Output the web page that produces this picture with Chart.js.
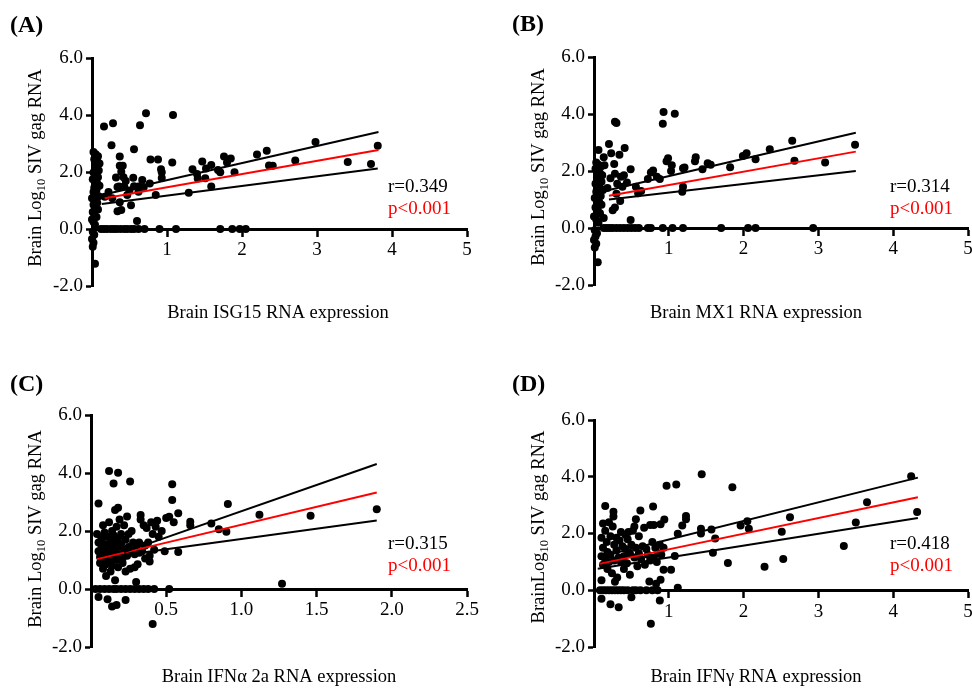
<!DOCTYPE html>
<html>
<head>
<meta charset="utf-8">
<script src="https://cdn.jsdelivr.net/npm/chart.js@4.4.1/dist/chart.umd.min.js"></script>
<style>
body { margin: 0; background: #fff; }
#wrap { position: relative; width: 972px; height: 688px; background: #fff; }
canvas { position: absolute; }
</style>
</head>
<body>
<div id="wrap">
  <canvas id="panelA" width="486" height="344" style="left:0;top:0"></canvas>
  <canvas id="panelB" width="486" height="344" style="left:486px;top:0"></canvas>
  <canvas id="panelC" width="486" height="344" style="left:0;top:344px"></canvas>
  <canvas id="panelD" width="486" height="344" style="left:486px;top:344px"></canvas>
</div>
<script>
// points, [x, y]
const isg15Points = [
  [0.02,2.7],[0.05,2.62],[0.08,2.55],[0.03,2.45],[0.07,2.38],[0.1,2.3],[0.04,2.22],[0.06,2.15],[0.09,2.05],[0.02,1.98],
  [0.05,1.9],[0.08,1.82],[0.01,1.75],[0.04,1.68],[0.07,1.6],[0.1,1.52],[0.03,1.45],[0.06,1.38],[0.02,1.3],[0.05,1.22],
  [0.09,1.15],[0.0,1.08],[0.04,1.0],[0.07,0.92],[0.02,0.85],[0.05,0.76],[0.08,0.68],[0.01,0.6],[0.03,0.5],[0.06,0.42],
  [0.0,0.33],[0.02,0.25],[0.04,0.15],[0.01,-0.1],[0.03,-0.2],[0.0,-0.35],[0.02,-0.48],[0.01,-0.62],[0.04,-1.22],
  [0.12,0],[0.16,0],[0.2,0],[0.25,0],[0.29,0],[0.33,0],[0.38,0],[0.43,0],[0.47,0],[0.52,0],[0.56,0],[0.62,0],[0.7,0],
  [0.9,0],[1.12,0],[1.71,0],[1.87,0],[1.97,0],[2.05,0],
  [0.16,3.6],[0.28,3.71],[0.72,4.06],[0.64,3.64],[1.08,4.0],[0.26,2.94],[0.56,2.8],[0.37,2.54],[0.78,2.44],[0.88,2.44],
  [1.07,2.33],[0.92,2.1],[0.93,1.99],[0.93,1.79],[0.37,2.22],[0.41,2.22],[0.39,2.01],[0.32,1.81],[0.42,1.82],[0.45,1.68],
  [0.36,1.49],[0.43,1.49],[0.34,1.47],[0.55,1.8],[0.56,1.5],[0.62,1.49],[0.69,1.47],[0.67,1.72],[0.77,1.6],[0.85,1.19],
  [0.62,1.31],[0.47,1.19],[0.37,0.94],[0.52,0.83],[0.34,0.62],[0.39,0.67],[0.6,0.28],[0.27,1.08],[0.17,1.13],[0.22,1.3],
  [0.5,1.35],[1.29,1.27],[1.34,2.1],[1.4,1.93],[1.41,1.77],[1.47,2.37],[1.51,1.78],[1.52,2.12],[1.59,2.25],[1.59,1.49],
  [1.68,2.07],[1.71,1.99],[1.76,2.54],[1.8,2.33],[1.85,2.47],[1.9,1.99],[2.2,2.61],[2.33,2.75],[2.36,2.23],[2.41,2.22],
  [2.71,2.4],[2.98,3.05],[3.41,2.35],[3.72,2.28],[3.81,2.92]
]
const isg15Fit = [[0.17,1.08],[3.82,2.77]]
const isg15Upper = [[0.13,1.19],[3.82,3.4]]
const isg15Lower = [[0.13,0.88],[3.81,2.12]]

const mx1Points = [
  [0.03,2.3],[0.06,2.22],[0.09,2.15],[0.02,2.08],[0.05,2.0],[0.08,1.92],[0.11,1.85],[0.04,1.77],[0.07,1.7],[0.1,1.62],
  [0.02,1.55],[0.05,1.48],[0.08,1.4],[0.12,1.33],[0.03,1.27],[0.06,1.2],[0.09,1.12],[0.01,1.05],[0.04,0.98],[0.07,0.9],
  [0.1,0.82],[0.02,0.72],[0.05,0.62],[0.08,0.52],[0.0,0.4],[0.03,0.3],[0.06,0.18],[0.01,-0.08],[0.04,-0.18],[0.02,-0.3],
  [0.0,-0.42],[0.03,-0.55],[0.01,-0.68],[0.05,-1.2],[0.13,0.35],
  [0.06,2.74],[0.2,2.95],[0.41,2.81],[0.23,2.62],[0.34,2.57],[0.13,2.48],[0.27,2.25],[0.49,2.06],[0.36,1.8],[0.28,1.9],
  [0.22,1.75],[0.31,1.55],[0.38,1.45],[0.3,1.2],[0.35,0.95],[0.28,0.72],[0.25,0.62],[0.18,1.4],[0.56,1.45],[0.59,1.22],
  [0.63,1.3],[0.49,0.28],[0.72,1.72],[0.76,1.95],[0.79,2.02],[0.84,1.8],[0.88,1.72],[0.97,2.34],[0.99,2.45],[1.04,2.2],
  [1.03,2.0],[1.19,2.1],[1.21,2.12],[1.19,1.45],[1.18,1.27],[1.35,2.34],[1.36,2.48],[1.45,2.06],[1.52,2.27],[1.56,2.22],
  [1.82,2.13],[1.99,2.53],[2.04,2.62],[2.16,2.41],[2.35,2.76],[2.65,3.06],[2.68,2.36],[3.09,2.3],[3.49,2.92],[0.93,4.07],
  [1.08,4.01],[0.92,3.66],[0.28,3.73],[0.3,3.68],[0.44,1.6],[0.4,1.85],[0.14,2.2],
  [0.13,0],[0.17,0],[0.21,0],[0.25,0],[0.3,0],[0.35,0],[0.4,0],[0.45,0],[0.5,0],[0.55,0],[0.6,0],[0.72,0],[0.76,0],
  [0.92,0],[1.05,0],[1.19,0],[1.7,0],[2.06,0],[2.16,0],[2.93,0]
]
const mx1Fit = [[0.2,1.13],[3.5,2.68]]
const mx1Upper = [[0.2,1.33],[3.5,3.34]]
const mx1Lower = [[0.2,1.0],[3.5,2.0]]

const ifnaPoints = [
  [0.04,1.9],[0.05,1.6],[0.05,1.3],[0.06,1.1],[0.06,0.9],[0.07,1.75],[0.07,1.45],[0.08,2.2],[0.08,1.2],[0.08,0.7],
  [0.09,1.95],[0.09,1.55],[0.09,1.0],[0.1,1.35],[0.1,0.85],[0.1,0.45],[0.11,1.8],[0.11,1.15],[0.12,2.3],[0.12,1.5],
  [0.12,0.95],[0.13,1.7],[0.13,1.25],[0.13,0.6],[0.14,2.0],[0.14,1.4],[0.14,0.8],[0.15,1.85],[0.15,1.1],[0.16,1.6],
  [0.16,1.3],[0.16,0.3],[0.17,2.15],[0.17,1.0],[0.18,1.75],[0.18,1.45],[0.18,0.75],[0.19,1.2],[0.19,2.4],[0.2,1.9],
  [0.2,1.55],[0.21,1.05],[0.21,0.9],[0.22,2.2],[0.22,1.35],[0.23,1.7],[0.23,0.6],[0.24,2.5],[0.24,1.15],[0.25,1.45],
  [0.25,1.9],[0.26,0.7],[0.27,2.0],[0.27,1.3],[0.28,1.6],[0.29,1.2],[0.3,1.45],[0.31,0.85],[0.32,1.25],[0.33,2.55],
  [0.33,2.4],[0.34,1.3],[0.35,2.2],[0.36,1.05],[0.37,2.1],[0.38,1.6],[0.39,1.15],[0.39,0.95],[0.4,2.3],[0.41,1.9],
  [0.42,1.35],[0.43,2.15],[0.44,2.35],[0.45,1.8],[0.47,2.0],[0.49,1.3],[0.05,2.95],[0.12,4.07],[0.18,4.01],[0.15,3.64],
  [0.26,3.71],[0.54,3.61],[0.54,3.07],[0.16,2.72],[0.18,2.8],[0.52,2.49],[0.58,2.61],[0.55,2.3],[0.5,2.45],[0.66,2.2],
  [0.66,2.32],[0.8,2.26],[0.85,2.06],[0.9,1.97],[0.91,2.93],[1.12,2.56],[1.46,2.53],[1.9,2.75],[1.27,0.18],[0.58,1.28],
  [0.41,-1.21],[0.3,0.24],[0.05,-0.28],[0.11,-0.35],[0.14,-0.6],[0.17,-0.55],[0.23,-0.38],[0.29,0.75],[0.36,1.5],[0.32,1.6],
  [0.03,0],[0.06,0],[0.09,0],[0.12,0],[0.15,0],[0.17,0],[0.2,0],[0.23,0],[0.26,0],[0.29,0],[0.32,0],[0.35,0],[0.38,0],
  [0.42,0],[0.52,0]
]
const ifnaFit = [[0.04,1.03],[1.9,3.33]]
const ifnaUpper = [[0.22,1.27],[1.9,4.31]]
const ifnaLower = [[0.22,1.17],[1.9,2.36]]

const ifngPoints = [
  [0.1,1.85],[0.1,1.2],[0.1,0.35],[0.12,2.35],[0.12,1.5],[0.12,0.9],[0.15,2.97],[0.15,2.1],[0.15,1.1],[0.17,1.7],
  [0.18,1.35],[0.18,0.75],[0.2,2.4],[0.2,1.0],[0.22,1.9],[0.22,1.25],[0.24,0.6],[0.25,2.25],[0.26,2.6],[0.26,2.77],
  [0.27,1.6],[0.27,1.05],[0.28,0.3],[0.3,1.85],[0.3,1.4],[0.31,0.45],[0.33,1.15],[0.34,1.75],[0.36,2.05],[0.36,1.0],
  [0.38,1.55],[0.4,1.2],[0.4,0.75],[0.42,1.95],[0.42,1.45],[0.44,0.95],[0.45,1.8],[0.46,2.05],[0.48,1.3],[0.48,0.55],
  [0.5,1.6],[0.52,2.1],[0.54,2.25],[0.54,1.15],[0.56,2.5],[0.56,1.5],[0.58,0.85],[0.6,1.9],[0.6,1.3],[0.62,2.81],
  [0.63,1.1],[0.65,1.55],[0.67,2.2],[0.68,0.9],[0.7,1.45],[0.72,1.25],[0.75,2.3],[0.75,1.05],[0.78,1.7],[0.79,2.95],
  [0.8,2.3],[0.8,1.15],[0.82,1.5],[0.84,1.0],[0.86,1.3],[0.89,2.33],[0.88,1.6],[0.9,1.25],[0.94,2.49],[0.93,1.5],
  [0.93,0.72],[1.03,0.72],[1.08,1.21],[1.12,1.99],[1.12,0.09],[0.74,0.31],[0.83,0.23],[0.89,0.37],[0.88,-0.36],[0.76,-1.18],
  [0.1,-0.3],[0.22,-0.49],[0.33,-0.6],[0.5,-0.25],[0.97,3.68],[1.1,3.73],[1.44,4.09],[1.85,3.63],[1.23,2.5],[1.23,2.62],
  [1.18,2.28],[1.43,2.0],[1.43,2.17],[1.57,2.14],[1.62,1.82],[1.59,1.32],[1.79,0.96],[1.96,2.28],[2.05,2.43],[2.07,2.17],
  [2.51,2.06],[2.53,1.1],[2.28,0.83],[2.62,2.57],[3.34,1.56],[3.5,2.39],[3.65,3.1],[4.24,4.02],[4.32,2.76],
  [0.08,0],[0.12,0],[0.16,0],[0.2,0],[0.24,0],[0.28,0],[0.32,0],[0.36,0],[0.4,0],[0.45,0],[0.52,0],[0.56,0],[0.62,0],
  [0.7,0],[0.78,0],[0.85,0]
]
const ifngFit = [[0.07,0.93],[4.33,3.28]]
const ifngUpper = [[0.1,1.2],[4.33,3.97]]
const ifngLower = [[0.05,0.76],[4.33,2.55]]

const yTicks = [-2, 0, 2, 4, 6]
const FONT = '"Liberation Serif", "Times New Roman", serif'

const toXY = (pts) => pts.map(([x, y]) => ({ x, y }))

// letters, titles and r / p drawn straight on the canvas
const panelText = {
  id: 'panelText',
  afterDraw(chart, args, o) {
    const ctx = chart.ctx
    ctx.save()
    ctx.fillStyle = '#000'
    ctx.textBaseline = 'middle'

    ctx.textAlign = 'left'
    ctx.font = 'bold 24px ' + FONT
    ctx.fillText(o.letter, o.letterAt[0], o.letterAt[1])

    ctx.textAlign = 'center'
    ctx.font = '18.5px ' + FONT
    ctx.fillText(o.xTitle, o.xTitleAt[0], o.xTitleAt[1])

    ctx.textAlign = 'left'
    ctx.font = '19px ' + FONT
    ctx.fillText(o.r, o.rAt[0], o.rAt[1])
    ctx.fillStyle = '#ff0000'
    ctx.fillText(o.p, o.rAt[0], o.rAt[1] + 22)

    // y title, rotated, with subscript 10
    ctx.fillStyle = '#000'
    ctx.translate(o.yTitleAt[0], o.yTitleAt[1])
    ctx.rotate(-Math.PI / 2)
    ctx.textBaseline = 'alphabetic'
    const big = '18.5px ' + FONT
    const small = '12.5px ' + FONT
    ctx.font = big
    const w1 = ctx.measureText(o.yTitle[0]).width
    const w3 = ctx.measureText(o.yTitle[2]).width
    ctx.font = small
    const w2 = ctx.measureText(o.yTitle[1]).width
    let x = -(w1 + w2 + w3) / 2
    ctx.font = big
    ctx.fillText(o.yTitle[0], x, 6)
    x += w1
    ctx.font = small
    ctx.fillText(o.yTitle[1], x, 10)
    x += w2
    ctx.font = big
    ctx.fillText(o.yTitle[2], x, 6)
    ctx.restore()
  }
}

function lineSet(pts, color) {
  return {
    data: toXY(pts),
    showLine: true,
    borderColor: color,
    borderWidth: 2,
    pointRadius: 0,
    clip: false
  }
}

// keep the plot box where the figure has it
function noPad(s) {
  s.paddingLeft = 0
  s.paddingRight = 0
  s.paddingTop = 0
  s.paddingBottom = 0
}

function buildPanel(id, cfg) {
  const axisTicks = {
    display: true,
    drawOnChartArea: false,
    drawTicks: true,
    tickLength: 6,
    tickWidth: 2.5,
    tickColor: '#000'
  }
  new Chart(document.getElementById(id), {
    type: 'scatter',
    data: {
      datasets: [
        lineSet(cfg.upper, '#000'),
        lineSet(cfg.lower, '#000'),
        lineSet(cfg.fit, '#ff0000'),
        {
          data: toXY(cfg.points),
          backgroundColor: '#000',
          borderColor: '#000',
          borderWidth: 0,
          pointRadius: 4,
          clip: false
        }
      ]
    },
    options: {
      responsive: false,
      animation: false,
      events: [],
      layout: { padding: { left: 0, top: cfg.area.top, right: cfg.area.right, bottom: cfg.area.bottom } },
      plugins: {
        legend: { display: false },
        tooltip: { enabled: false },
        panelText: cfg.text
      },
      scales: {
        x: {
          type: 'linear',
          position: { y: 0 },
          min: 0,
          max: cfg.xMax,
          afterFit: (s) => { s.height = 0; noPad(s) },
          border: { display: true, width: 3, color: '#000' },
          grid: axisTicks,
          ticks: {
            stepSize: cfg.xStep,
            autoSkip: false,
            maxRotation: 0,
            padding: 4,
            color: '#000',
            font: { family: FONT, size: 19 },
            callback: (v) => v === 0 ? '' : (cfg.xStep < 1 ? v.toFixed(1) : String(v))
          }
        },
        y: {
          type: 'linear',
          position: 'left',
          min: -2,
          max: 6,
          afterFit: (s) => { s.width = cfg.area.left; noPad(s) },
          afterBuildTicks: (s) => { s.ticks = yTicks.map((v) => ({ value: v })) },
          border: { display: true, width: 3, color: '#000' },
          grid: axisTicks,
          ticks: {
            padding: 3,
            color: '#000',
            font: { family: FONT, size: 19 },
            callback: (v) => v.toFixed(1)
          }
        }
      }
    },
    plugins: [panelText]
  })
}

window.addEventListener('load', () => {
  try {
    buildPanel('panelA', {
      points: isg15Points, fit: isg15Fit, upper: isg15Upper, lower: isg15Lower,
      xMax: 5, xStep: 1,
      area: { left: 92, top: 58, right: 19, bottom: 58 },
      text: {
        letter: '(A)', letterAt: [10, 26],
        xTitle: 'Brain ISG15 RNA expression', xTitleAt: [278, 313],
        yTitle: ['Brain Log', '10', ' SIV gag RNA'], yTitleAt: [35, 168],
        r: 'r=0.349', p: 'p<0.001', rAt: [388, 187]
      }
    })
    buildPanel('panelB', {
      points: mx1Points, fit: mx1Fit, upper: mx1Upper, lower: mx1Lower,
      xMax: 5, xStep: 1,
      area: { left: 108, top: 57, right: 3, bottom: 59 },
      text: {
        letter: '(B)', letterAt: [26, 25],
        xTitle: 'Brain MX1 RNA expression', xTitleAt: [270, 313],
        yTitle: ['Brain Log', '10', ' SIV gag RNA'], yTitleAt: [52, 167],
        r: 'r=0.314', p: 'p<0.001', rAt: [404, 187]
      }
    })
    buildPanel('panelC', {
      points: ifnaPoints, fit: ifnaFit, upper: ifnaUpper, lower: ifnaLower,
      xMax: 2.5, xStep: 0.5,
      area: { left: 91, top: 71, right: 19, bottom: 41 },
      text: {
        letter: '(C)', letterAt: [10, 41],
        xTitle: 'Brain IFNα 2a RNA expression', xTitleAt: [279, 333],
        yTitle: ['Brain Log', '10', ' SIV gag RNA'], yTitleAt: [35, 185],
        r: 'r=0.315', p: 'p<0.001', rAt: [388, 200]
      }
    })
    buildPanel('panelD', {
      points: ifngPoints, fit: ifngFit, upper: ifngUpper, lower: ifngLower,
      xMax: 5, xStep: 1,
      area: { left: 108, top: 76, right: 3, bottom: 41 },
      text: {
        letter: '(D)', letterAt: [26, 41],
        xTitle: 'Brain IFNγ RNA expression', xTitleAt: [270, 333],
        yTitle: ['BrainLog', '10', ' SIV gag RNA'], yTitleAt: [52, 183],
        r: 'r=0.418', p: 'p<0.001', rAt: [404, 200]
      }
    })
  } catch (e) {
    console.error(e)
  }
})
</script>
</body>
</html>
